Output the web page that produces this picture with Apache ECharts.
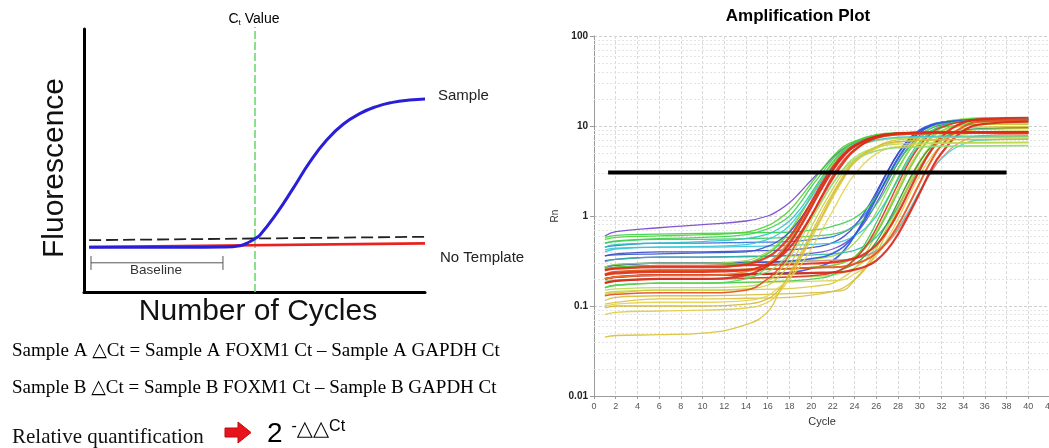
<!DOCTYPE html>
<html><head><meta charset="utf-8">
<script src="https://cdn.jsdelivr.net/npm/echarts@6/dist/echarts.min.js"></script>
<style>html,body{margin:0;padding:0;background:#fff}#c{width:1049px;height:448px}</style>
</head><body><div id="c"></div>
<script>
// ===== Left schematic (arbitrary units: cycle 0-40, fluorescence 0-100) =====
const sampleCurve = [[0.6,17],[12,17],[16.3,17.1],[18.3,17.6],[19.5,19.2],[20.06,20.3],[20.65,21.7],[22.6,29.9],[24.55,39.5],[26.5,49.5],[28.47,57.8],[30.4,63.8],[32.4,67.9],[34.3,70.5],[36.2,72.1],[38.2,73.0],[40,73.4]];
const noTemplateLine = [[0.6,17.1],[40,18.5]];
const schematicThreshold = [[0.6,19.7],[40,21.0]];
const ctLine = [[20.06,0],[20.06,100.8]];
const baselineSpan = [[0.82,11.1],[16.3,11.1]];
const baselineTickLeft = [[0.82,8.4],[0.82,13.7]];
const baselineTickRight = [[16.3,8.4],[16.3,13.7]];

// ===== Right amplification plot =====
const earlyCycles = [1,2,6,10,14,16,17,18,19,20,21,22,23,24,26,28,32,40];
const lateCycles = [1,2,6,10,14,18,21,22,23,24,25,26,27,28,29,30,31,32,34,36,40];
const earlyCurves = [
  [0.6,0.67,0.74,0.8,0.88,1.0,1.15,1.4,1.85,2.5,3.3,4.5,5.6,6.5,7.7,8.2,8.5,8.6],
  [0.5,0.53,0.56,0.58,0.62,0.72,0.82,1.0,1.4,2.1,3.0,4.3,5.6,6.6,7.8,8.2,8.4,8.5],
  [0.45,0.48,0.5,0.52,0.56,0.63,0.72,0.88,1.2,1.8,2.7,3.9,5.2,6.3,7.6,8.1,8.3,8.4],
  [0.26,0.27,0.28,0.28,0.3,0.38,0.48,0.67,1.03,1.67,2.66,3.98,5.4,6.6,8.0,8.4,8.55,8.6],
  [0.16,0.17,0.18,0.18,0.2,0.27,0.36,0.53,0.85,1.4,2.3,3.6,5.0,6.2,7.7,8.2,8.4,8.5],
  [0.27,0.29,0.3,0.3,0.32,0.4,0.5,0.68,1.03,1.65,2.6,3.8,5.0,5.9,6.9,7.3,7.5,7.6],
  [0.42,0.44,0.45,0.46,0.48,0.55,0.63,0.78,1.1,1.6,2.5,3.6,4.8,5.8,7.0,7.5,7.7,7.8],
  [0.36,0.37,0.38,0.39,0.4,0.46,0.53,0.66,0.93,1.4,2.2,3.3,4.7,5.9,7.5,8.1,8.3,8.4],
  [0.55,0.58,0.6,0.62,0.66,0.78,0.92,1.15,1.6,2.3,3.3,4.6,5.9,6.8,7.9,8.3,8.5,8.6],
  [0.2,0.21,0.22,0.22,0.24,0.3,0.38,0.52,0.8,1.3,2.1,3.3,4.7,5.9,7.4,8.0,8.3,8.4],
  [0.25,0.26,0.27,0.27,0.29,0.35,0.43,0.58,0.88,1.42,2.3,3.5,4.9,6.1,7.6,8.2,8.4,8.5],
  [0.18,0.19,0.2,0.2,0.22,0.28,0.35,0.49,0.76,1.24,2.05,3.22,4.63,5.98,7.69,8.28,8.45,8.5],
  [0.13,0.135,0.14,0.14,0.15,0.2,0.26,0.37,0.6,1.0,1.7,2.85,4.2,5.5,7.3,8.0,8.3,8.4],
  [0.22,0.23,0.24,0.24,0.25,0.29,0.34,0.44,0.64,1.0,1.64,2.63,3.95,5.37,7.44,8.23,8.5,8.55]
];
const midCurves = [
  [0.045,0.047,0.048,0.05,0.062,0.086,0.138,0.23,0.38,0.64,1.1,1.8,2.85,4.2,5.9,7.0,7.5,7.6],
  [0.08,0.085,0.088,0.09,0.095,0.11,0.14,0.2,0.33,0.55,0.95,1.6,2.6,3.9,5.6,6.6,7.1,7.2],
  [0.095,0.1,0.1,0.1,0.105,0.12,0.15,0.22,0.35,0.6,1.0,1.7,2.7,4.0,5.8,6.7,7.0,7.1],
  [0.1,0.105,0.11,0.11,0.115,0.13,0.16,0.2,0.28,0.43,0.7,1.15,1.9,2.9,4.9,5.9,6.4,6.5],
  [0.14,0.145,0.15,0.15,0.155,0.17,0.21,0.29,0.45,0.75,1.25,2.0,3.1,4.1,5.3,5.8,6.0,6.1],
  [0.15,0.155,0.16,0.16,0.165,0.19,0.24,0.34,0.54,0.9,1.45,2.3,3.4,4.5,5.8,6.3,6.5,6.6],
  [0.19,0.195,0.2,0.2,0.21,0.24,0.29,0.39,0.6,0.95,1.5,2.3,3.3,4.3,5.3,5.7,5.9,6.0]
];
const lateCurves = [
  [.2,.21,.22,.22,.225,.235,.28,.32,.41,.6,.99,1.74,3.04,4.95,7.15,9.04,10.3,11.0,11.6,11.7,11.7],
  [.36,.38,.4,.4,.41,.42,.465,.505,.59,.77,1.14,1.85,3.09,4.9,7.0,8.8,10.0,10.7,11.2,11.3,11.35],
  [.45,.47,.5,.5,.51,.52,.565,.59,.66,.79,1.06,1.6,2.6,4.24,6.36,8.45,10.0,11.0,11.8,12.0,12.0],
  [.32,.33,.35,.35,.355,.365,.4,.43,.49,.61,.87,1.38,2.34,3.88,5.9,7.9,9.4,10.3,11.1,11.25,11.3],
  [.58,.61,.63,.64,.65,.66,.72,.77,.84,.95,1.18,1.64,2.5,3.9,5.7,7.45,8.8,9.6,10.3,10.45,10.5],
  [.5,.52,.55,.55,.56,.58,.61,.63,.67,.76,.95,1.34,2.09,3.39,5.3,7.5,9.4,10.66,11.7,12.0,12.1],
  [.27,.285,.3,.3,.305,.315,.34,.36,.4,.5,.7,1.1,1.89,3.26,5.27,7.58,9.56,10.9,12.0,12.3,12.4],
  [.4,.43,.45,.45,.46,.47,.49,.5,.53,.6,.73,1.0,1.54,2.54,4.18,6.3,8.4,10.0,11.5,11.9,12.0],
  [.135,.14,.15,.15,.152,.156,.17,.18,.21,.26,.38,.63,1.11,2.01,3.49,5.4,7.28,8.7,10.05,10.4,10.5],
  [.225,.24,.25,.25,.255,.26,.273,.283,.303,.348,.44,.64,1.05,1.84,3.2,5.2,7.5,9.5,11.6,12.2,12.3],
  [.105,.11,.12,.12,.122,.125,.137,.145,.16,.197,.27,.43,.76,1.4,2.5,4.13,6.0,7.6,9.3,9.77,9.9],
  [.18,.19,.2,.2,.204,.208,.215,.222,.235,.264,.326,.456,.73,1.27,2.27,3.91,6.03,8.12,10.7,11.47,11.7],
  [.27,.285,.3,.3,.305,.31,.32,.322,.325,.34,.364,.414,.52,.73,1.15,1.9,3.02,4.32,6.3,6.99,7.2],
  [.27,.285,.3,.3,.305,.31,.32,.322,.325,.338,.359,.405,.5,.7,1.09,1.82,2.97,4.4,6.85,7.82,8.12],
  [.31,.33,.35,.35,.355,.36,.374,.38,.392,.416,.47,.582,.82,1.27,2.13,3.49,5.17,6.85,8.8,9.4,9.6],
  [.16,.17,.18,.18,.182,.185,.19,.192,.196,.228,.27,.361,.55,.925,1.65,2.84,4.43,5.98,8.0,8.6,8.8],
  [.2,.21,.22,.22,.224,.228,.232,.236,.26,.293,.365,.516,.83,1.43,2.47,4.0,5.76,7.27,8.86,9.3,9.45],
  [.27,.285,.3,.3,.305,.315,.35,.385,.457,.612,.932,1.56,2.69,4.42,6.57,8.57,10.0,10.9,11.6,11.8,11.8],
  [.225,.24,.25,.25,.255,.26,.275,.284,.307,.355,.455,.665,1.1,1.88,3.25,5.16,7.2,8.9,10.6,11.05,11.2],
  [.16,.17,.18,.18,.184,.19,.205,.222,.259,.337,.5,.84,1.5,2.66,4.49,6.66,8.64,10.04,11.3,11.6,11.7],
  [.115,.125,.13,.13,.133,.137,.142,.145,.15,.194,.258,.388,.66,1.19,2.13,3.58,5.32,6.9,8.66,9.18,9.34],
  [.18,.19,.2,.2,.204,.21,.222,.235,.264,.326,.456,.73,1.27,2.27,3.91,6.03,8.12,9.71,11.2,11.6,11.7],
  [.25,.265,.28,.28,.285,.29,.3,.305,.318,.338,.383,.477,.675,1.08,1.87,3.24,5.25,7.56,10.9,12.0,12.35],
  [.225,.24,.25,.25,.255,.26,.268,.27,.275,.295,.324,.386,.516,.79,1.33,2.33,3.97,6.09,9.77,11.27,11.75],
  [.2,.21,.22,.22,.225,.23,.235,.236,.24,.254,.275,.32,.42,.625,1.04,1.8,3.18,4.98,8.8,10.55,11.15]
];
const ampThreshold = [[1.3,3.05],[38,3.05]];
const rnMinorGrid = [0.02,0.03,0.04,0.05,0.06,0.07,0.08,0.09,0.2,0.3,0.4,0.5,0.6,0.7,0.8,0.9,2,3,4,5,6,7,8,9,20,30,40,50,60,70,80,90];

// ===== styles (kept apart from data) =====
const earlyColors = ['#7446cc','#3bd04a','#2cc3bf','#46cf40','#55d65c','#9cd84a','#38c8d8','#3452c8','#4ad232','#ef7b24','#e2301a','#d8281c','#e24a22','#e02818'];
const earlyWidths = [1.3,1.3,1.3,1.6,1.3,1.3,1.3,1.3,1.3,1.5,2.2,2.2,1.5,2.2];
const midColors = ['#d8c030','#e0cc40','#d0b830','#e6d24a','#c8d040','#b8d84a','#90dc80'];
const lateColors = ['#2f50e0','#3848c8','#3070e0','#6a48d0','#38d04a','#40cc60','#98d848','#30c8d8','#d8c838','#40d040','#dcc040','#a8dc50','#40d0d8','#e88870','#30b8a0','#d8d050','#2a9a40','#2858d8','#8cd040','#3ccc50','#d4bc38','#e03020','#e0281a','#e8501c','#d82418'];
const lateWidths = [1.6,1.3,1.3,1.3,1.3,1.3,1.3,1.3,1.3,1.3,1.3,1.3,1.3,1.3,1.3,1.3,1.3,1.6,1.3,1.3,1.3,1.5,2.2,2.0,2.2];

const serif = "'Liberation Serif','Times New Roman',serif";
const sans = "'Liberation Sans',Arial,sans-serif";
const sym = "'DejaVu Sans',sans-serif";

function curve(cycles, vals, color, width, z){
  return {type:'line', xAxisIndex:1, yAxisIndex:1, data: cycles.map((c,i)=>[c, vals[i]]),
    symbol:'none', showSymbol:false, smooth:0.45, silent:true, z:z,
    lineStyle:{color:color, width:width, opacity:0.9}};
}
function schem(data, style, z, extra){
  return Object.assign({type:'line', xAxisIndex:0, yAxisIndex:0, data:data, symbol:'none', showSymbol:false,
    silent:true, clip:false, z:z, lineStyle:style}, extra||{});
}

const series = [];
series.push(schem(ctLine, {color:'#6fd86f', width:1.6, type:[8,3]}, 3));
series.push(schem(baselineSpan, {color:'#555', width:1}, 3));
series.push(schem(baselineTickLeft, {color:'#555', width:1}, 3));
series.push(schem(baselineTickRight, {color:'#555', width:1}, 3));
series.push(schem(noTemplateLine, {color:'#e8231f', width:2.6}, 4));
series.push(schem(schematicThreshold, {color:'#222', width:1.8, type:[12,5]}, 5));
series.push(schem(sampleCurve, {color:'#2a1fd8', width:3}, 6, {smooth:0.5}));
series.push({type:'line', xAxisIndex:1, yAxisIndex:1, data:[], silent:true, z:1,
  markLine:{silent:true, symbol:'none', animation:false, label:{show:false},
    lineStyle:{color:'#e4e4e4', width:1, type:[2,2]},
    data: rnMinorGrid.map(v=>({yAxis:v}))}});
lateCurves.forEach((v,i)=>series.push(curve(lateCycles, v, lateColors[i], lateWidths[i], 10+i)));
midCurves.forEach((v,i)=>series.push(curve(earlyCycles, v, midColors[i], 1.3, 40+i)));
earlyCurves.forEach((v,i)=>series.push(curve(earlyCycles, v, earlyColors[i], earlyWidths[i], 50+i)));
series.push({type:'line', xAxisIndex:1, yAxisIndex:1, data:ampThreshold, symbol:'none', silent:true, z:90,
  lineStyle:{color:'#000', width:4}});

const chart = echarts.init(document.getElementById('c'));
chart.setOption({
  animation:false,
  backgroundColor:'#fff',
  grid:[
    {left:84, top:29, width:341, height:263, outerBoundsMode:'none', containLabel:false},
    {left:594, top:36, width:456, height:360, outerBoundsMode:'none', containLabel:false}
  ],
  xAxis:[
    {gridIndex:0, type:'value', min:0, max:40, axisLine:{show:true, lineStyle:{color:'#000', width:3}},
      axisTick:{show:false}, axisLabel:{show:false}, splitLine:{show:false}},
    {gridIndex:1, type:'value', min:0, max:42, interval:2,
      axisLine:{lineStyle:{color:'#9a9a9a', width:1}}, axisTick:{show:true, length:3, lineStyle:{color:'#9a9a9a'}},
      axisLabel:{fontSize:9, color:'#555', margin:6, fontFamily:sans, hideOverlap:false},
      splitLine:{show:true, lineStyle:{color:'#d9d9d9', width:1, type:[3,2]}}}
  ],
  yAxis:[
    {gridIndex:0, type:'value', min:0, max:100, axisLine:{show:true, lineStyle:{color:'#000', width:3}},
      axisTick:{show:false}, axisLabel:{show:false}, splitLine:{show:false}},
    {gridIndex:1, type:'log', logBase:10, min:0.01, max:100,
      axisLine:{show:true, lineStyle:{color:'#9a9a9a', width:1}}, axisTick:{show:true, length:4, lineStyle:{color:'#9a9a9a'}},
      axisLabel:{fontSize:10, color:'#222', margin:6, fontFamily:sans, fontWeight:'bold',
        formatter:function(v){return String(+v.toPrecision(3));}},
      splitLine:{show:true, lineStyle:{color:'#cfcfcf', width:1, type:[3,2]}}}
  ],
  graphic:[
    {type:'text', x:55, y:168, rotation:Math.PI/2, style:{text:'Fluorescence', font:'30px '+sans, fill:'#111', align:'center', verticalAlign:'middle'}},
    {type:'text', x:258, y:312, style:{text:'Number of Cycles', font:'30px '+sans, fill:'#111', align:'center', verticalAlign:'middle'}},
    {type:'text', x:254, y:19, style:{text:'{a|C}{b|t}{a| Value}', align:'center', verticalAlign:'middle',
      rich:{a:{fontSize:14, fontFamily:sans, color:'#333', lineHeight:16}, b:{fontSize:8, fontFamily:sans, color:'#333', lineHeight:8, verticalAlign:'bottom'}}}},
    {type:'text', x:438, y:96, style:{text:'Sample', font:'15px '+sans, fill:'#222', align:'left', verticalAlign:'middle'}},
    {type:'text', x:440, y:258, style:{text:'No Template', font:'15px '+sans, fill:'#222', align:'left', verticalAlign:'middle'}},
    {type:'text', x:156, y:270, style:{text:'Baseline', font:'13.5px '+sans, fill:'#333', align:'center', verticalAlign:'middle'}},
    {type:'text', x:798, y:16, style:{text:'Amplification Plot', font:'bold 17px '+sans, fill:'#000', align:'center', verticalAlign:'middle'}},
    {type:'text', x:555, y:216, rotation:Math.PI/2, style:{text:'Rn', font:'10px '+sans, fill:'#333', align:'center', verticalAlign:'middle'}},
    {type:'text', x:822, y:422, style:{text:'Cycle', font:'11px '+sans, fill:'#333', align:'center', verticalAlign:'middle'}},
    {type:'text', x:12, y:351, style:{text:'{t|Sample A }{g|△}{t|Ct = Sample A FOXM1 Ct – Sample A GAPDH Ct}', align:'left', verticalAlign:'middle',
      rich:{t:{fontSize:19, fontFamily:serif, color:'#111'}, g:{fontSize:19, fontFamily:sym, color:'#888'}}}},
    {type:'text', x:12, y:388, style:{text:'{t|Sample B }{g|△}{t|Ct = Sample B FOXM1 Ct – Sample B GAPDH Ct}', align:'left', verticalAlign:'middle',
      rich:{t:{fontSize:19, fontFamily:serif, color:'#111'}, g:{fontSize:19, fontFamily:sym, color:'#888'}}}},
    {type:'text', x:12, y:437, style:{text:'Relative quantification', font:'21px '+serif, fill:'#111', align:'left', verticalAlign:'middle'}},
    {type:'polygon', shape:{points:[[225,428],[238,428],[238,422],[251,432.5],[238,443],[238,437],[225,437]]},
      style:{fill:'#e8141c', stroke:'#b80c10', lineWidth:1}},
    {type:'text', x:267, y:434, style:{text:'{n|2}{s|  -}{g|△△}{s|Ct}', align:'left', verticalAlign:'middle',
      rich:{n:{fontSize:28, fontFamily:sans, color:'#333', lineHeight:30},
        s:{fontSize:16, fontFamily:sans, color:'#555', lineHeight:18, verticalAlign:'top'},
        g:{fontSize:21, fontFamily:sym, color:'#888', lineHeight:18, verticalAlign:'top'}}}}
  ],
  series: series
});
</script></body></html>
